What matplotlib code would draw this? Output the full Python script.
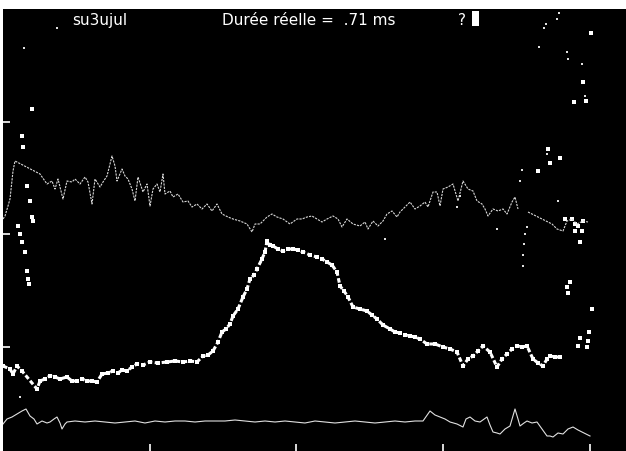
import matplotlib.pyplot as plt
from matplotlib.patches import Rectangle

# trace principale (points gras)
main_x = [3, 10, 13, 17, 22, 37, 40, 45, 50, 55, 60, 67, 72, 77, 82, 87, 92, 97, 102, 108,
          113, 118, 122, 127, 132, 137, 143, 150, 158, 167, 175, 183, 190, 197, 203, 208, 213,
          218, 222, 226, 230, 233, 238, 243, 247, 250, 254, 257, 262, 265, 267, 270, 273, 278,
          283, 288, 293, 298, 303, 310, 317, 322, 327, 332, 337, 340, 344, 348, 353, 360, 367,
          372, 377, 383, 390, 395, 400, 405, 410, 415, 420, 427, 435, 443, 450, 457, 463, 468,
          473, 478, 483, 490, 497, 502, 507, 512, 517, 522, 527, 533, 538, 543, 547, 550, 555, 560]
main_y = [367, 370, 375, 367, 372, 390, 382, 380, 377, 378, 380, 378, 382, 382, 380, 382, 382,
          383, 375, 374, 372, 374, 371, 372, 368, 365, 366, 363, 364, 363, 362, 363, 362, 363,
          357, 356, 352, 343, 333, 330, 325, 317, 310, 298, 290, 280, 276, 270, 260, 253, 242,
          246, 247, 250, 252, 250, 250, 251, 253, 256, 258, 260, 263, 266, 273, 287, 292, 298,
          308, 310, 312, 316, 320, 326, 330, 333, 334, 336, 337, 338, 340, 345, 345, 348, 350,
          353, 367, 360, 357, 352, 347, 353, 368, 360, 355, 350, 347, 348, 347, 360, 364, 367,
          360, 357, 358, 358]

# trace du haut (fine)
up_x = [3, 5, 8, 10, 13, 15, 40, 47, 52, 55, 58, 63, 67, 72, 75, 80, 85, 88, 92, 95, 100, 103,
        107, 112, 115, 117, 122, 125, 128, 132, 135, 138, 143, 147, 150, 153, 157, 160, 163, 165,
        170, 173, 178, 183, 188, 192, 197, 202, 207, 212, 217, 222, 228, 233, 240, 247, 252, 255,
        260, 267, 272, 277, 283, 290, 297, 302, 307, 312, 317, 322, 327, 333, 338, 342, 347, 353,
        360, 365, 368, 373, 378, 383, 387, 392, 397, 400, 405, 410, 415, 420, 425, 428, 433, 437,
        440, 443, 448, 453, 458, 463, 468, 473, 477, 482, 485, 488, 493, 498, 503, 507, 512, 515,
        518]
up_y = [220, 217, 207, 200, 172, 162, 175, 185, 182, 190, 180, 200, 182, 183, 180, 185, 178,
        183, 205, 180, 188, 183, 177, 157, 167, 182, 170, 177, 180, 190, 202, 178, 193, 185, 207,
        190, 185, 193, 175, 195, 192, 198, 195, 203, 202, 208, 205, 210, 205, 212, 205, 215, 218,
        220, 222, 225, 233, 225, 225, 218, 215, 218, 220, 225, 220, 220, 218, 217, 220, 223, 220,
        217, 220, 228, 220, 225, 227, 223, 230, 222, 227, 222, 215, 212, 218, 213, 208, 203, 210,
        207, 203, 208, 193, 193, 207, 190, 188, 185, 202, 182, 190, 192, 202, 205, 210, 217, 210,
        212, 210, 215, 203, 198, 210]
up2_x = [528, 552, 557, 563, 567, 572, 577, 583, 588]
up2_y = [213, 225, 230, 232, 222, 220, 225, 222, 223]

# trace du bas (fine)
low_x = [3, 7, 12, 17, 22, 26, 30, 34, 37, 42, 47, 50, 54, 57, 60, 62, 65, 67, 75, 85, 95, 105,
         115, 125, 135, 145, 155, 165, 175, 185, 195, 205, 215, 225, 235, 245, 255, 265, 275,
         285, 295, 305, 315, 325, 335, 345, 355, 365, 375, 385, 395, 405, 415, 423, 430, 435,
         440, 445, 450, 457, 463, 466, 470, 475, 480, 487, 490, 493, 497, 500, 505, 510, 515,
         518, 520, 524, 527, 532, 537, 542, 547, 550, 553, 558, 563, 568, 573, 578, 582, 586, 590]
low_y = [425, 420, 418, 415, 412, 410, 417, 420, 425, 422, 424, 423, 420, 418, 424, 430, 425,
         423, 422, 423, 422, 423, 424, 423, 422, 424, 422, 423, 422, 422, 423, 422, 422, 422,
         421, 422, 423, 422, 423, 422, 423, 424, 422, 423, 424, 423, 422, 423, 424, 423, 422,
         423, 422, 422, 412, 416, 418, 420, 423, 425, 428, 420, 418, 422, 423, 418, 426, 433,
         434, 435, 430, 427, 410, 420, 427, 424, 422, 424, 423, 430, 437, 437, 438, 434, 435,
         430, 428, 431, 433, 435, 437]

# points isoles
dots_x = [32, 22, 23, 27, 30, 32, 33, 18, 20, 22, 25, 27, 28, 29, 538, 548, 560, 550,
          574, 583, 586, 565, 572, 575, 578, 583, 575, 582, 580, 570, 567, 568, 592, 589,
          580, 588, 578, 587, 591]
dots_y = [110, 137, 148, 187, 202, 218, 222, 227, 235, 243, 253, 272, 280, 285, 172, 150,
          159, 164, 103, 83, 102, 220, 220, 225, 227, 222, 232, 232, 243, 283, 288, 294, 310,
          333, 339, 342, 347, 348, 34]
small_x = [57, 24, 559, 557, 546, 544, 539, 567, 568, 582, 585, 547, 558, 522, 520, 527,
           525, 524, 523, 523, 497, 457, 460, 385, 20]
small_y = [29, 49, 14, 20, 25, 29, 48, 53, 60, 65, 97, 155, 202, 171, 182, 228, 235, 245,
           256, 267, 230, 208, 197, 240, 398]

fig = plt.figure(figsize=(6.26, 4.52), dpi=100, facecolor="white")
ax = fig.add_axes([3 / 626, 0, 623 / 626, 442 / 452])
ax.set_facecolor("black")
ax.set_xlim(3, 626)
ax.set_ylim(452, 10)
for s in ax.spines.values():
    s.set_visible(False)

ax.set_xticks([150, 296, 443, 590])
ax.set_yticks([123, 235, 348])
ax.tick_params(direction="in", length=5, width=1.2, color="white",
               labelbottom=False, labelleft=False)

ax.plot(up_x, up_y, color="#d8d8d8", lw=0.8, ls=(0, (2, 1)))
ax.plot(up2_x, up2_y, color="#d8d8d8", lw=0.8, ls=(0, (2, 1)))
ax.plot(low_x, low_y, color="#e0e0e0", lw=0.8)
ax.plot(main_x, main_y, color="white", lw=2.2, ls=(0, (1.5, 0.8)))
ax.scatter(main_x, main_y, s=5, marker="s", color="white", lw=0)
ax.scatter(dots_x, dots_y, s=5, marker="s", color="white", lw=0)
ax.scatter(small_x, small_y, s=1.5, marker="s", color="#e0e0e0", lw=0)

font = dict(color="white", fontsize=11, va="baseline",
            family=["Liberation Sans Narrow", "DejaVu Sans"])
ax.text(72, 25, "su3ujul", **font)
ax.text(222, 25, "Durée réelle =  .71 ms", **font)
ax.text(458, 25, "?", **font)
ax.add_patch(Rectangle((472, 12), 7, 15, color="white", lw=0))

fig.savefig("out.png", dpi=100, facecolor="white")
